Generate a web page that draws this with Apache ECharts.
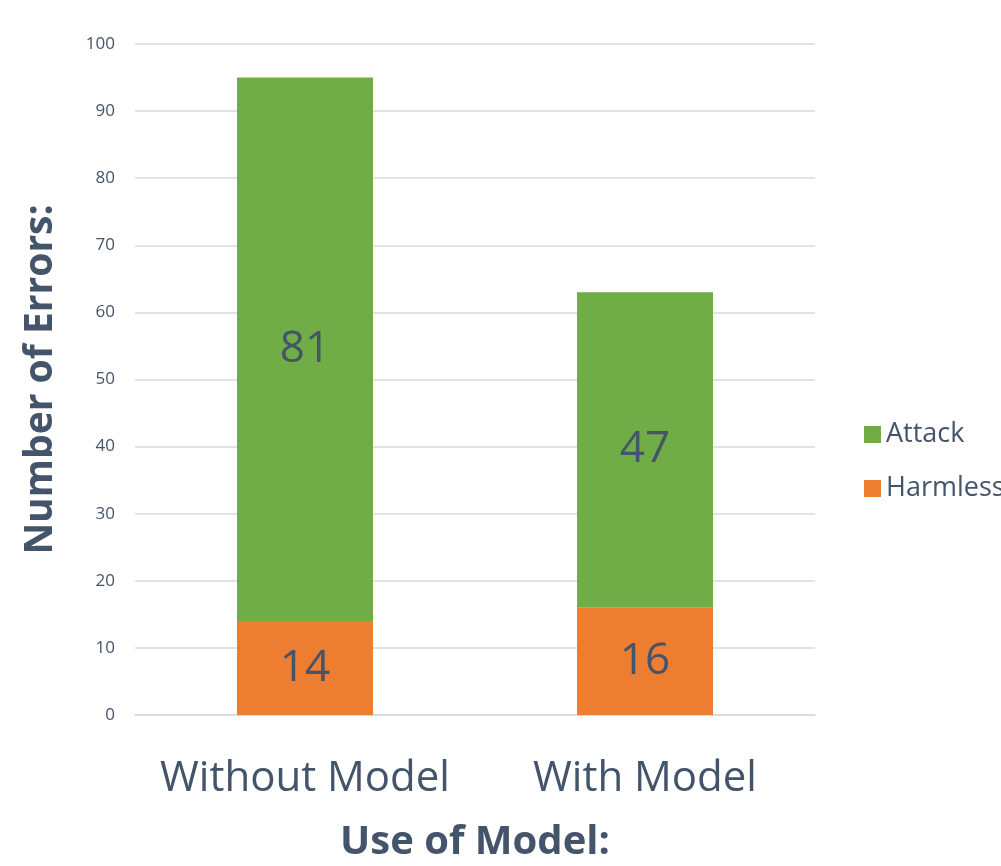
<!DOCTYPE html>
<html>
<head>
<meta charset="utf-8">
<style>
  html, body { margin: 0; padding: 0; background: #fff; }
  #chart { width: 1001px; height: 866px; }
</style>
<script src="https://cdn.jsdelivr.net/npm/echarts@6/dist/echarts.min.js"></script>
</head>
<body>
<div id="chart"></div>
<script>
  var categories = ['Without Model', 'With Model']
  var harmless = [14, 16]
  var attack = [81, 47]
  var yTicks = { min: 0, max: 100, interval: 10 }

  var textColor = '#44546A'
  var font = '"Open Sans", "Liberation Sans", sans-serif'

  var chart = echarts.init(document.getElementById('chart'))
  var option = {
    backgroundColor: '#fff',
    textStyle: { fontFamily: font, color: textColor },
    grid: { left: 135, right: 186, top: 44, bottom: 151, outerBoundsMode: 'none', containLabel: false },
    legend: {
      orient: 'vertical',
      left: 859,
      top: 416,
      itemWidth: 17,
      itemHeight: 17,
      itemGap: 27,
      icon: 'rect',
      data: ['Attack', 'Harmless'],
      textStyle: { fontSize: 27, color: textColor, fontFamily: font }
    },
    xAxis: {
      type: 'category',
      data: categories,
      name: 'Use of Model:',
      nameLocation: 'middle',
      nameGap: 108,
      nameTextStyle: { fontSize: 40, fontWeight: 'bold', color: textColor, fontFamily: font },
      axisTick: { show: false },
      axisLine: { lineStyle: { color: '#D9D9D9', width: 1.5 } },
      axisLabel: { interval: 0, fontSize: 42, color: textColor, margin: 43, fontFamily: font }
    },
    yAxis: {
      type: 'value',
      min: yTicks.min,
      max: yTicks.max,
      interval: yTicks.interval,
      name: 'Number of Errors:',
      nameLocation: 'middle',
      nameGap: 75,
      nameTextStyle: { fontSize: 39, fontWeight: 'bold', color: textColor, fontFamily: font },
      axisLine: { show: false },
      axisTick: { show: false },
      axisLabel: { fontSize: 17, color: textColor, margin: 20, fontFamily: font },
      splitLine: { lineStyle: { color: '#D9D9D9', width: 1.5 } }
    },
    series: [
      {
        name: 'Harmless',
        type: 'bar',
        stack: 'errors',
        barWidth: '40%',
        data: harmless,
        itemStyle: { color: '#ED7D31' },
        label: { show: true, position: 'inside', fontSize: 44, color: textColor, fontFamily: font }
      },
      {
        name: 'Attack',
        type: 'bar',
        stack: 'errors',
        barWidth: '40%',
        data: attack,
        itemStyle: { color: '#70AD47' },
        label: { show: true, position: 'inside', fontSize: 44, color: textColor, fontFamily: font }
      }
    ]
  }
  chart.setOption(option)
</script>
</body>
</html>
